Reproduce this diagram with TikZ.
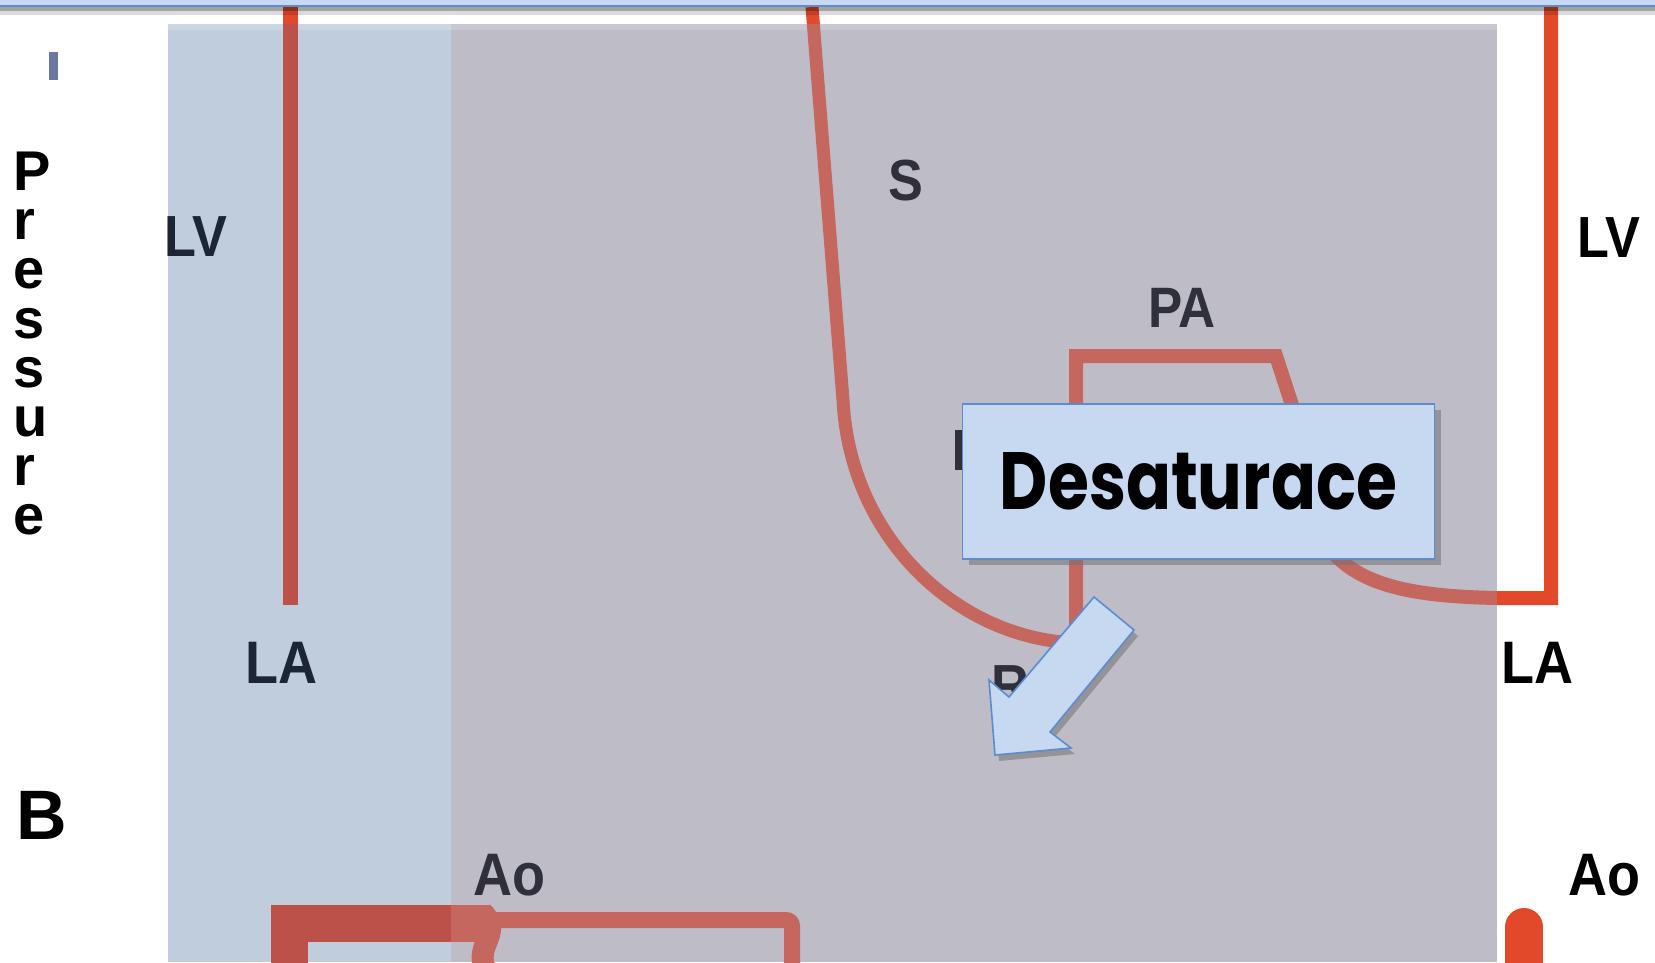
\documentclass[tikz,border=0pt]{standalone}
\usepackage{fontspec}
\usetikzlibrary{shadows}
\newfontfamily\lblfont{Liberation Sans}
\newfontfamily\notefont{Poppins}

\definecolor{hdrblue}{HTML}{C6D9F1}
\definecolor{hdrline}{HTML}{5B8BD3}
\definecolor{laneblue}{HTML}{C0CDDD}
\definecolor{lanegray}{HTML}{BDBCC7}
\definecolor{tracebright}{HTML}{E2492A}
\definecolor{traceblue}{HTML}{BC514A}
\definecolor{tracegray}{HTML}{C6675F}
\definecolor{inkblue}{HTML}{1B2536}
\definecolor{inkgray}{HTML}{30303C}
\definecolor{tickmark}{HTML}{6A77A0}
\definecolor{calloutfill}{HTML}{C6D9F1}
\definecolor{calloutedge}{HTML}{5B8BD3}
\colorlet{tracecol}{tracebright}

\tikzset{
  tracestroke/.style={draw=tracecol, line width=15pt, line join=miter},
  lbl/.style={inner sep=0pt, anchor=base west, font=\lblfont\bfseries},
  calloutbox/.style={fill=calloutfill, draw=calloutedge, line width=1.6pt,
    drop shadow={shadow xshift=6pt, shadow yshift=-6pt, fill=black!55, opacity=.55}},
}
\newcommand\lbltext[2]{\scalebox{0.9}[1]{\fontsize{#1pt}{#1pt}\selectfont #2}}

% pressure traces, drawn once per colour zone
\newcommand\hemotraces{%
  \draw[tracestroke] (290,7) -- (290,605);
  \draw[tracestroke, line width=13pt] (812,7) -- (843,400)
     .. controls (850,540) and (960,640) .. (1078,643);
  \draw[tracestroke, line width=14pt] (1076,648) -- (1076,356) -- (1276,356) -- (1292,405)
     .. controls (1300,560) and (1340,595) .. (1497,598) -- (1551,598) -- (1551,7);
  \draw[tracestroke, line width=37pt] (289,975) -- (289,923.5) -- (490,923.5);
  \draw[tracestroke, line width=16pt, rounded corners=6pt] (480,920) -- (792,920) -- (792,975);
  \draw[tracestroke, line width=22pt] (482,912) .. controls (505,935) and (470,945) .. (488,975);
  \draw[tracestroke, line width=38pt, line cap=round] (1524,985) -- (1524,927);
}

\begin{document}
\begin{tikzpicture}[x=1pt,y=-1pt]
\useasboundingbox (0,0) rectangle (1655,962);
\fill[white] (0,0) rectangle (1655,962);

% traces outside the shaded panel
\hemotraces

% shaded panel
\fill[laneblue] (168,24) rectangle (451,962);
\fill[lanegray] (451,24) rectangle (1497,962);
\fill[white, opacity=.18] (168,24) rectangle (1497,30);

\begin{scope}
  \clip (168,24) rectangle (451,962);
  \colorlet{tracecol}{traceblue}
  \hemotraces
\end{scope}
\begin{scope}
  \clip (451,24) rectangle (1497,962);
  \colorlet{tracecol}{tracegray}
  \hemotraces
\end{scope}

% window header strip
\fill[hdrblue] (0,0) rectangle (1655,5);
\fill[hdrline] (0,5) rectangle (1655,6.8);
\fill[black, opacity=.36] (0,6.8) rectangle (1655,11);
\fill[black, opacity=.14] (0,11) rectangle (1655,15);

% axis mark and vertical axis title
\fill[tickmark] (48.5,52) rectangle (57.5,80);
\node[inner sep=0pt, anchor=north west, align=left,
  font=\lblfont\bfseries\fontsize{56pt}{49.1pt}\selectfont] (ptitle) at (13,152)
  {P\\r\\e\\s\\s\\u\\r\\e};
\node[lbl] (panelB) at (16,839) {\fontsize{70pt}{70pt}\selectfont B};

% chamber labels
\node[lbl, text=inkblue] (lvL) at (164,256) {\lbltext{58}{LV}};
\node[lbl, text=inkblue] (laL) at (245,683) {\lbltext{60}{LA}};
\node[lbl, text=inkgray] (sL) at (888,200) {\lbltext{58}{S}};
\node[lbl, text=inkgray] (paL) at (1148,327) {\lbltext{57}{PA}};
\node[lbl, text=inkgray] (aoL) at (473,895) {\lbltext{60}{Ao}};
\node[lbl, text=inkgray] (rL) at (991,705) {\lbltext{58}{R}};
\node[lbl, text=black] (lvR) at (1577,257) {\lbltext{58}{LV}};
\node[lbl, text=black] (laR) at (1501,683) {\lbltext{60}{LA}};
\node[lbl, text=black] (aoR) at (1568,895) {\lbltext{60}{Ao}};

% letter stem peeking out from under the callout
\fill[inkgray] (955,430) rectangle (963,470);

% callout and its arrow
\node[calloutbox, minimum width=472pt, minimum height=155pt, inner sep=0pt] (desat)
  at (1198.5,481.5) {\resizebox{397pt}{57pt}{\notefont\bfseries Desaturace}};
\path[fill=calloutfill, draw=calloutedge, line width=1.6pt, line join=miter,
  drop shadow={shadow xshift=4pt, shadow yshift=-6pt, fill=black!55, opacity=.55}]
  (1094,597) -- (1134,630) -- (1050,732) -- (1071,748) -- (995,755)
  -- (989,680) -- (1009,697) -- cycle;
\end{tikzpicture}
\end{document}
